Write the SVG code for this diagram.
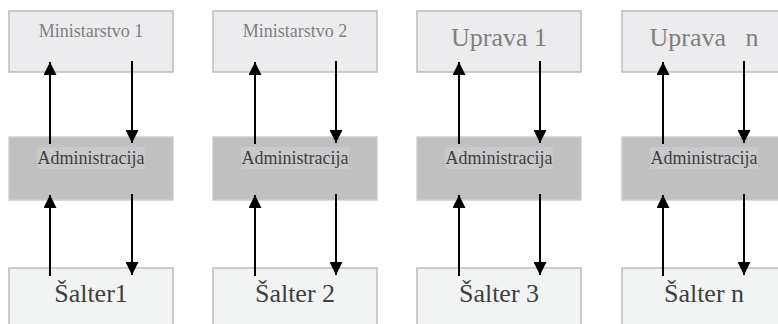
<svg xmlns="http://www.w3.org/2000/svg" width="778" height="324" viewBox="0 0 778 324">
<style>
.top{fill:#ECECEE;stroke:#BDBDBD;stroke-width:1.5}
.adm{fill:#C0C0C0;stroke:#CDCDCD;stroke-width:1.5}
.sal{fill:#F2F3F3;stroke:#BDBDBD;stroke-width:1.5}
.lbg{fill:#C9C9CB}
.t1{font-size:18px;fill:#7F7F7F}
.t2{font-size:26px;fill:#7F7F7F;white-space:pre}
.ta{font-size:18px;fill:#404040}
.ts{font-size:26px;fill:#404040}
.c line{stroke:#000;stroke-width:2;marker-end:url(#ah)}
</style>
<defs>
<marker id="ah" markerUnits="userSpaceOnUse" markerWidth="13" markerHeight="13" refX="13" refY="6.5" orient="auto" viewBox="0 0 13 13">
<path d="M0,0 L13,6.5 L0,13 z" fill="#000"/>
</marker>
</defs>
<g font-family="Liberation Serif, Tinos, DejaVu Serif, serif" text-anchor="middle">
<g id="ministarstvo1"><rect class="top" x="9" y="11" width="164" height="61"/><text class="t1" x="91" y="37">Ministarstvo 1</text></g>
<g id="ministarstvo2"><rect class="top" x="213" y="11" width="164" height="61"/><text class="t1" x="295" y="37">Ministarstvo 2</text></g>
<g id="uprava1"><rect class="top" x="417" y="11" width="164" height="61"/><text class="t2" x="499" y="46">Uprava 1</text></g>
<g id="upravan"><rect class="top" x="622" y="11" width="164" height="61"/><text class="t2" x="704" y="46" xml:space="preserve">Uprava   n</text></g>
<g id="admin1"><rect class="adm" x="9" y="137" width="164" height="63"/><rect class="lbg" x="37" y="147" width="108" height="22"/><text class="ta" x="91" y="164">Administracija</text></g>
<g id="admin2"><rect class="adm" x="213" y="137" width="164" height="63"/><rect class="lbg" x="241" y="147" width="108" height="22"/><text class="ta" x="295" y="164">Administracija</text></g>
<g id="admin3"><rect class="adm" x="417" y="137" width="164" height="63"/><rect class="lbg" x="445" y="147" width="108" height="22"/><text class="ta" x="499" y="164">Administracija</text></g>
<g id="admin4"><rect class="adm" x="622" y="137" width="164" height="63"/><rect class="lbg" x="650" y="147" width="108" height="22"/><text class="ta" x="704" y="164">Administracija</text></g>
<g id="salter1"><rect class="sal" x="9" y="268" width="164" height="62"/><text class="ts" x="91" y="302">Šalter1</text></g>
<g id="salter2"><rect class="sal" x="213" y="268" width="164" height="62"/><text class="ts" x="295" y="302">Šalter 2</text></g>
<g id="salter3"><rect class="sal" x="417" y="268" width="164" height="62"/><text class="ts" x="499" y="302">Šalter 3</text></g>
<g id="saltern"><rect class="sal" x="622" y="268" width="164" height="62"/><text class="ts" x="704" y="302">Šalter n</text></g>
</g>
<g id="connectors" class="c">
<line x1="50" y1="144" x2="50" y2="62"/><line x1="132" y1="61" x2="132" y2="143"/>
<line x1="50" y1="276" x2="50" y2="195"/><line x1="132" y1="194" x2="132" y2="275"/>
<line x1="255" y1="144" x2="255" y2="62"/><line x1="336" y1="61" x2="336" y2="143"/>
<line x1="255" y1="276" x2="255" y2="195"/><line x1="336" y1="194" x2="336" y2="275"/>
<line x1="459" y1="144" x2="459" y2="62"/><line x1="540" y1="61" x2="540" y2="143"/>
<line x1="459" y1="276" x2="459" y2="195"/><line x1="540" y1="194" x2="540" y2="275"/>
<line x1="663" y1="144" x2="663" y2="62"/><line x1="744" y1="61" x2="744" y2="143"/>
<line x1="663" y1="276" x2="663" y2="195"/><line x1="744" y1="194" x2="744" y2="275"/>
</g>
</svg>
